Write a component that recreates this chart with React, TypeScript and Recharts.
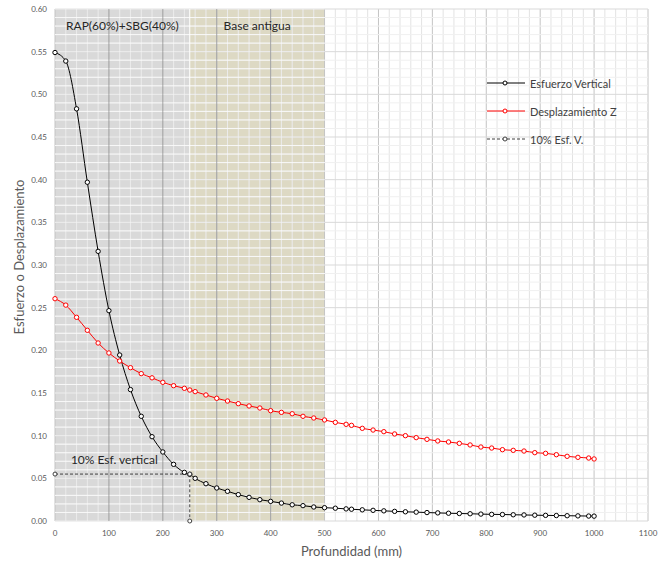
import { ComposedChart, Line, XAxis, YAxis, ReferenceArea, ReferenceLine, ReferenceDot, Legend, Label } from "recharts";

// profundidad (mm)
const depthMm = [
  0, 20, 40, 60, 80, 100, 120, 140, 160, 180, 200, 220, 240, 250, 260, 280, 300, 320, 340, 360, 380, 400, 420, 440, 460, 480, 500,
  520, 540, 550, 570, 590, 610, 630, 650, 670, 690, 710, 730, 750, 770, 790, 810, 830, 850, 870, 890, 910, 930, 950, 970, 990, 1000,
];

const esfuerzoVertical = [
  0.549, 0.539, 0.483, 0.397, 0.316, 0.2465, 0.1945, 0.154, 0.1227, 0.0988, 0.0809, 0.0664, 0.057, 0.0547, 0.05, 0.0437, 0.0387,
  0.0348, 0.0309, 0.0277, 0.025, 0.023, 0.021, 0.019, 0.018, 0.0164, 0.0156,
  0.015, 0.0142, 0.0138, 0.0131, 0.0125, 0.0119, 0.0113, 0.0108, 0.0104, 0.0099, 0.0095, 0.0091, 0.0088, 0.0085, 0.0081, 0.0078,
  0.0076, 0.0073, 0.0071, 0.0068, 0.0066, 0.0064, 0.0062, 0.006, 0.0058, 0.0057,
];

const desplazamientoZ = [
  0.2605, 0.253, 0.2387, 0.2235, 0.2086, 0.1969, 0.1875, 0.1797, 0.1727, 0.1678, 0.1625, 0.1586, 0.1555, 0.1535, 0.1516, 0.1477,
  0.1438, 0.1406, 0.1375, 0.1348, 0.1324, 0.1293, 0.1273, 0.1257, 0.1227, 0.1207, 0.1184,
  0.1156, 0.1133, 0.1121, 0.1086, 0.1066, 0.1047, 0.102, 0.1, 0.0977, 0.0957, 0.0938, 0.0926, 0.091, 0.0891, 0.0867, 0.0855, 0.0836,
  0.0828, 0.082, 0.0801, 0.0793, 0.0777, 0.0758, 0.0746, 0.0738, 0.0727,
];

// 10% del esfuerzo vertical
const tenPctDepth = [0, 250, 250];
const tenPctValue = [0.055, 0.055, 0];

const xTicks = [0, 100, 200, 300, 400, 500, 600, 700, 800, 900, 1000, 1100];
const yTicks = [0, 0.05, 0.1, 0.15, 0.2, 0.25, 0.3, 0.35, 0.4, 0.45, 0.5, 0.55, 0.6];

const layerNames = ["RAP(60%)+SBG(40%)", "Base antigua"];
const layerFrom = [0, 250];
const layerTo = [250, 500];
const layerFill = ["#d9d9d9", "#ddd9c4"];

const rows = depthMm.map((x, i) => ({ x, esfuerzo: esfuerzoVertical[i], desplazamiento: desplazamientoZ[i] }));
const tenPctRows = tenPctDepth.map((x, i) => ({ x, v: tenPctValue[i] }));

const xMinor = Array.from({ length: 56 }, (_, i) => i * 20);
const yMinor = Array.from({ length: 61 }, (_, i) => i / 100);
const isMajorX = (v: number) => v % 100 === 0;
const isMajorY = (v: number) => Math.round(v * 100) % 5 === 0;

const font = "Lato, 'Open Sans', sans-serif";

const legendItems = [
  { label: "Esfuerzo Vertical", color: "#000", dash: undefined },
  { label: "Desplazamiento Z", color: "#ff0000", dash: undefined },
  { label: "10% Esf. V.", color: "#404040", dash: "3 2" },
];

function renderLegend() {
  return (
    <div style={{ fontFamily: font, fontSize: 11, color: "#404040" }}>
      {legendItems.map((it) => (
        <div key={it.label} style={{ display: "flex", alignItems: "center", height: 28 }}>
          <svg width={38} height={10}>
            <line x1={0} y1={5} x2={38} y2={5} stroke={it.color} strokeWidth={1} strokeDasharray={it.dash} />
            <circle cx={18} cy={5} r={2} fill="#fff" stroke={it.color} strokeWidth={1} />
          </svg>
          <span style={{ marginLeft: 5 }}>{it.label}</span>
        </div>
      ))}
    </div>
  );
}

// título vertical, un poco por encima del centro como en el original
function YTitle(props: any) {
  const vb = props.viewBox || {};
  const cx = 19;
  const cy = (vb.y ?? 0) + (vb.height ?? 0) / 2 - 8;
  return (
    <text
      x={cx}
      y={cy}
      transform={`rotate(-90, ${cx}, ${cy})`}
      textAnchor="middle"
      dominantBaseline="central"
      fill="#595959"
      fontSize={13}
      fontFamily={font}
    >
      Esfuerzo o Desplazamiento
    </text>
  );
}

export default function App() {
  return (
    <div style={{ position: "absolute", left: 0, top: 0, background: "#fff" }}>
      <ComposedChart width={662} height={563} data={rows} margin={{ top: 9, right: 14, bottom: 0, left: 0 }}>
        {/* rejilla general */}
        {xMinor.map((v) => (
          <ReferenceLine key={"gx" + v} x={v} stroke={isMajorX(v) ? "#c4c4c4" : "#e3e3e3"} strokeWidth={1} />
        ))}
        {yMinor.map((v) => (
          <ReferenceLine key={"gy" + v} y={v} stroke={isMajorY(v) ? "#d9d9d9" : "#f0f0f0"} strokeWidth={1} />
        ))}

        {layerNames.map((name, i) => (
          <ReferenceArea key={name} x1={layerFrom[i]} x2={layerTo[i]} y1={0} y2={0.6} fill={layerFill[i]} fillOpacity={1} stroke="none">
            <Label value={name} position="insideTop" offset={12} fill="#262626" fontSize={12} fontFamily={font} />
          </ReferenceArea>
        ))}

        {/* rejilla sobre las capas */}
        {yMinor.map((v) => (
          <ReferenceLine
            key={"sy" + v}
            segment={[{ x: 0, y: v }, { x: 500, y: v }]}
            stroke="#ffffff"
            strokeOpacity={0.55}
            strokeWidth={1}
          />
        ))}
        {xMinor
          .filter((v) => v > 0 && v < 500)
          .map((v) => (
            <ReferenceLine
              key={"sx" + v}
              segment={[{ x: v, y: 0 }, { x: v, y: 0.6 }]}
              stroke={isMajorX(v) ? "#a6a6a6" : "#ffffff"}
              strokeOpacity={isMajorX(v) ? 1 : 0.3}
              strokeWidth={1}
            />
          ))}
        <ReferenceLine segment={[{ x: 250, y: 0 }, { x: 250, y: 0.6 }]} stroke="#ffffff" strokeWidth={1} />

        <XAxis
          type="number"
          dataKey="x"
          domain={[0, 1100]}
          ticks={xTicks}
          tickLine={false}
          axisLine={false}
          tickSize={0}
          tickMargin={9}
          height={42}
          tick={{ fontSize: 8, fill: "#595959", fontFamily: font }}
        >
          <Label
            value="Profundidad (mm)"
            position="insideBottom"
            offset={7}
            fontSize={13}
            fontFamily={font}
            style={{ fill: "#595959" }}
          />
        </XAxis>
        <YAxis
          type="number"
          domain={[0, 0.6]}
          ticks={yTicks}
          tickFormatter={(v: number) => v.toFixed(2)}
          tickLine={false}
          axisLine={false}
          tickSize={0}
          tickMargin={8}
          width={55}
          tick={{ fontSize: 8, fill: "#595959", fontFamily: font }}
        >
          <Label content={YTitle} />
        </YAxis>

        <Line
          type="monotone"
          dataKey="esfuerzo"
          name="Esfuerzo Vertical"
          stroke="#000"
          strokeWidth={1}
          dot={{ r: 2.2, fill: "#fff", stroke: "#000", strokeWidth: 1 }}
          activeDot={false}
          isAnimationActive={false}
        />
        <Line
          type="monotone"
          dataKey="desplazamiento"
          name="Desplazamiento Z"
          stroke="#ff0000"
          strokeWidth={1}
          dot={{ r: 2.2, fill: "#fff", stroke: "#ff0000", strokeWidth: 1 }}
          activeDot={false}
          isAnimationActive={false}
        />
        <Line
          data={tenPctRows}
          type="linear"
          dataKey="v"
          name="10% Esf. V."
          stroke="#404040"
          strokeWidth={1}
          strokeDasharray="3 2"
          dot={{ r: 2, fill: "#fff", stroke: "#404040", strokeWidth: 1, strokeDasharray: "" }}
          activeDot={false}
          isAnimationActive={false}
        />

        <ReferenceDot x={110} y={0.072} r={0} fill="none" stroke="none">
          <Label value="10% Esf. vertical" position="center" fill="#262626" fontSize={12} fontFamily={font} />
        </ReferenceDot>

        <Legend
          layout="horizontal"
          align="center"
          verticalAlign="middle"
          content={renderLegend}
          wrapperStyle={{ left: 487, top: 69, width: "auto" }}
        />
      </ComposedChart>
    </div>
  );
}
